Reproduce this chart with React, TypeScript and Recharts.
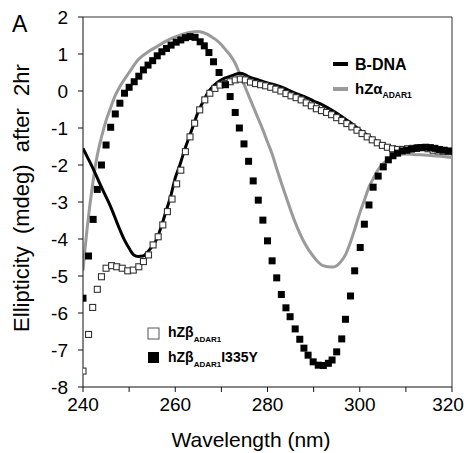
import React from 'react';
import { ComposedChart, Line, Scatter, XAxis, YAxis, ReferenceLine } from 'recharts';

const FONT = '"Liberation Sans", Arial, Helvetica, sans-serif';

const xTicks = [240, 250, 260, 270, 280, 290, 300, 310, 320];
const yTicks = [-8, -7, -6, -5, -4, -3, -2, -1, 0, 1, 2];

// B-DNA (black line)
const bDnaWl = [240, 241, 242, 243, 244, 246, 248, 249, 250, 251, 252, 253, 254, 255, 256, 257, 258, 259, 260, 261, 262, 263, 264, 265, 266, 267, 268, 269, 270, 271, 272, 273, 274, 275, 276, 278, 280, 282, 284, 286, 288, 290, 292, 294, 296, 298, 300, 302, 304, 306, 308, 310, 312, 314, 316, 318, 320];
const bDnaVal = [-1.55, -1.8, -2.05, -2.32, -2.6, -3.13, -3.75, -4.03, -4.25, -4.43, -4.47, -4.46, -4.35, -4.2, -4.0, -3.65, -3.25, -2.85, -2.35, -2.0, -1.6, -1.25, -0.9, -0.55, -0.3, -0.06, 0.1, 0.22, 0.3, 0.36, 0.4, 0.45, 0.48, 0.45, 0.38, 0.3, 0.22, 0.15, 0.06, -0.06, -0.15, -0.27, -0.38, -0.52, -0.68, -0.86, -1.05, -1.22, -1.38, -1.5, -1.56, -1.55, -1.5, -1.47, -1.52, -1.58, -1.65];

// hZalpha ADAR1 (gray line)
const zAlphaWl = [240, 241, 242, 243, 244, 245, 246, 247, 248, 250, 252, 254, 256, 258, 260, 262, 264, 265, 266, 267, 268, 269, 270, 271, 272, 273, 274, 275, 276, 277, 278, 279, 280, 281, 282, 284, 286, 288, 290, 292, 294, 295, 296, 297, 298, 299, 300, 301, 302, 303, 304, 306, 308, 310, 312, 314, 316, 318, 320];
const zAlphaVal = [-4.85, -3.6, -2.6, -1.8, -1.25, -0.8, -0.45, -0.12, 0.12, 0.5, 0.85, 1.05, 1.2, 1.35, 1.46, 1.55, 1.6, 1.61, 1.58, 1.53, 1.45, 1.37, 1.25, 1.1, 0.95, 0.75, 0.45, 0.15, -0.15, -0.45, -0.75, -1.05, -1.38, -1.7, -2.1, -2.85, -3.55, -4.1, -4.48, -4.72, -4.76, -4.72, -4.6, -4.4, -4.08, -3.7, -3.3, -2.95, -2.6, -2.35, -2.12, -1.86, -1.73, -1.7, -1.72, -1.73, -1.75, -1.77, -1.8];

// hZbeta ADAR1 (open squares)
const zBetaWl = [240.0, 241.2, 242.1, 243.1, 244.0, 245.0, 246.2, 247.3, 248.5, 249.7, 250.9, 252.1, 253.1, 254.2, 255.2, 256.3, 257.3, 258.3, 259.3, 260.3, 261.2, 262.2, 263.2, 264.2, 265.3, 266.4, 267.5, 268.6, 269.7, 270.8, 271.9, 273.0, 274.1, 275.2, 276.3, 277.4, 278.5, 279.6, 280.7, 281.8, 282.9, 284.0, 285.1, 286.2, 287.3, 288.4, 289.5, 290.6, 291.7, 292.8, 293.9, 295.0, 296.1, 297.2, 298.3, 299.4, 300.5, 301.6, 302.7, 303.8, 304.9, 306.0, 307.1, 308.2, 309.3, 310.4, 311.5, 312.6, 313.7, 314.8, 315.9, 317.0, 318.1, 319.2];
const zBetaVal = [-7.57, -6.58, -5.85, -5.36, -5.02, -4.79, -4.72, -4.75, -4.79, -4.86, -4.84, -4.75, -4.61, -4.43, -4.16, -3.94, -3.62, -3.26, -2.92, -2.51, -2.14, -1.64, -1.24, -0.87, -0.51, -0.24, -0.06, 0.07, 0.16, 0.2, 0.25, 0.3, 0.32, 0.3, 0.24, 0.2, 0.17, 0.14, 0.1, 0.05, 0.0, -0.07, -0.13, -0.18, -0.24, -0.32, -0.4, -0.48, -0.53, -0.58, -0.64, -0.72, -0.8, -0.88, -0.97, -1.06, -1.15, -1.24, -1.32, -1.4, -1.47, -1.52, -1.56, -1.58, -1.58, -1.56, -1.55, -1.53, -1.53, -1.56, -1.6, -1.62, -1.63, -1.64];

// hZbeta ADAR1 I335Y (filled squares)
const i335yWl = [240.0, 241.2, 242.2, 243.1, 244.0, 245.0, 246.0, 247.0, 248.0, 249.0, 250.0, 251.1, 252.1, 253.1, 254.1, 255.1, 256.1, 257.1, 258.1, 259.1, 260.2, 261.2, 262.2, 263.2, 264.3, 265.4, 266.3, 267.3, 268.3, 269.5, 270.9, 271.9, 273.0, 273.9, 274.9, 275.9, 276.9, 278.0, 279.0, 280.0, 281.0, 282.0, 283.0, 284.0, 284.9, 286.0, 287.0, 287.9, 288.8, 289.9, 291.0, 292.1, 293.2, 294.0, 295.0, 296.1, 296.9, 298.0, 298.9, 300.1, 301.0, 302.0, 302.9, 304.0, 305.1, 306.2, 307.2, 308.2, 309.2, 310.2, 311.2, 312.3, 313.3, 314.3, 315.3, 316.3, 317.3, 318.3, 319.3];
const i335yVal = [-5.6, -4.46, -3.47, -2.66, -2.0, -1.46, -0.98, -0.62, -0.33, -0.06, 0.1, 0.25, 0.4, 0.57, 0.7, 0.82, 0.95, 1.06, 1.15, 1.24, 1.32, 1.38, 1.44, 1.47, 1.45, 1.33, 1.22, 1.04, 0.79, 0.5, 0.17, -0.15, -0.58, -1.0, -1.43, -1.9, -2.43, -2.95, -3.49, -4.05, -4.59, -5.05, -5.5, -5.86, -6.1, -6.43, -6.71, -6.95, -7.14, -7.32, -7.41, -7.42, -7.36, -7.27, -7.05, -6.7, -6.17, -5.54, -4.86, -4.23, -3.6, -3.08, -2.6, -2.3, -2.05, -1.86, -1.75, -1.68, -1.62, -1.6, -1.57, -1.55, -1.53, -1.52, -1.53, -1.55, -1.58, -1.6, -1.62];

const zip = (wl: number[], val: number[]) => wl.map((w, i) => ({ wl: w, v: val[i] }));

const bDna = zip(bDnaWl, bDnaVal);
const zAlpha = zip(zAlphaWl, zAlphaVal);
const zBeta = zip(zBetaWl, zBetaVal);
const i335y = zip(i335yWl, i335yVal);

const FilledSquare = (p: any) => (
  <rect x={p.cx - 3.5} y={p.cy - 3.5} width={7} height={7} fill="#000" />
);
const OpenSquare = (p: any) => (
  <rect x={p.cx - 3} y={p.cy - 3} width={6} height={6} fill="#fff" stroke="#333" strokeWidth={1.1} />
);

const tickStyle = { fontSize: 19, fill: '#000', fontFamily: FONT };

const XTick = (p: any) => {
  const val = p.payload.value as number;
  if (val % 20 !== 0) return <g />;
  const shift = val === 320 ? -4 : 0;
  return (
    <text x={p.x + shift} y={p.y} dy="0.71em" textAnchor="middle" fontSize={19} fill="#000" fontFamily={FONT}>
      {String(val)}
    </text>
  );
};

export default function App() {
  return (
    <div style={{ position: 'absolute', left: 0, top: 0, width: 464, height: 453, background: '#fff' }}>
      <ComposedChart
        width={464}
        height={453}
        margin={{ top: 17, right: 12, bottom: 0, left: 0 }}
        style={{ fontFamily: FONT }}
      >
        <XAxis
          dataKey="wl"
          type="number"
          domain={[240, 320]}
          ticks={xTicks}
          interval={0}
          height={66}
          tickSize={5}
          tickMargin={6}
          tick={XTick}
          axisLine={{ stroke: '#111', strokeWidth: 1 }}
          tickLine={{ stroke: '#111', strokeWidth: 1 }}
          allowDataOverflow
        />
        <YAxis
          dataKey="v"
          type="number"
          domain={[-8, 2]}
          ticks={yTicks}
          interval={0}
          width={83}
          tickSize={5}
          tickMargin={10}
          tick={tickStyle}
          axisLine={{ stroke: '#111', strokeWidth: 1 }}
          tickLine={{ stroke: '#111', strokeWidth: 1 }}
          allowDataOverflow
        />
        <ReferenceLine y={2} stroke="#333" strokeWidth={1} />
        <ReferenceLine x={320} stroke="#333" strokeWidth={1} />
        <Line
          data={zAlpha}
          dataKey="v"
          type="monotone"
          stroke="#9a9a9a"
          strokeWidth={3}
          dot={false}
          activeDot={false}
          isAnimationActive={false}
        />
        <Scatter data={zBeta} dataKey="v" shape={OpenSquare} isAnimationActive={false} />
        <Line
          data={bDna}
          dataKey="v"
          type="monotone"
          stroke="#000"
          strokeWidth={3}
          dot={false}
          activeDot={false}
          isAnimationActive={false}
        />
        <Scatter data={i335y} dataKey="v" shape={FilledSquare} isAnimationActive={false} />
      </ComposedChart>
      <svg
        width={464}
        height={453}
        style={{ position: 'absolute', left: 0, top: 0, pointerEvents: 'none', fontFamily: FONT }}
      >
        <text x={12} y={32} fontSize={23} fill="#000">A</text>
        <text
          x={29}
          y={198}
          fontSize={22}
          fill="#000"
          textAnchor="middle"
          transform="rotate(-90, 29, 198)"
        >
          {'Ellipticity\u00A0\u00A0(mdeg)\u00A0\u00A0after\u00A0\u00A02hr'}
        </text>
        <text x={251} y={447} fontSize={21} fill="#000" textAnchor="middle">Wavelength (nm)</text>

        <line x1={333} y1={64} x2={348} y2={64} stroke="#000" strokeWidth={4} />
        <text x={355} y={70} fontSize={16} fontWeight="bold" fill="#000">B-DNA</text>
        <line x1={333} y1={89} x2={348} y2={89} stroke="#9a9a9a" strokeWidth={4} />
        <text x={355} y={94} fontSize={15} fontWeight="bold" fill="#000">
          hZ<tspan fontSize={15}>α</tspan>
          <tspan fontSize={8.5} dy={4}>ADAR1</tspan>
        </text>

        <rect x={148} y={328} width={11} height={11} fill="#fff" stroke="#555" strokeWidth={1} />
        <text x={168} y={337} fontSize={14} fontWeight="bold" fill="#000">
          hZ<tspan>β</tspan>
          <tspan fontSize={8} dy={5}>ADAR1</tspan>
        </text>
        <rect x={148} y={352} width={11} height={11} fill="#000" />
        <text x={168} y={362} fontSize={14} fontWeight="bold" fill="#000">
          hZ<tspan>β</tspan>
          <tspan fontSize={8} dy={5}>ADAR1</tspan>
          <tspan dy={-5}>I335Y</tspan>
        </text>
      </svg>
    </div>
  );
}
